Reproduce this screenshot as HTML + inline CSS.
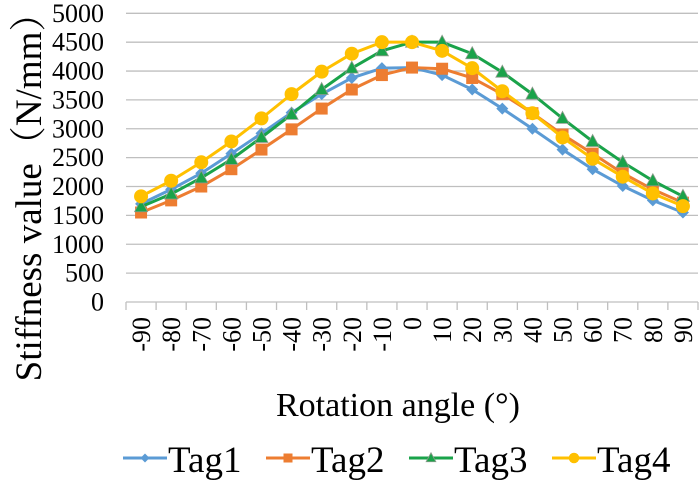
<!DOCTYPE html>
<html><head><meta charset="utf-8"><style>body{margin:0;background:#fff}svg{display:block;font-family:"Liberation Serif","Noto Serif CJK SC",serif}</style></head>
<body>
<svg width="700" height="480" viewBox="0 0 700 480" xmlns="http://www.w3.org/2000/svg">
<g id="grid" stroke="#bfbfbf" stroke-width="1.3"></g>
<g id="lbl"></g>
<g id="series"></g>
<text x="0" y="0" transform="translate(41,188) rotate(-90)" text-anchor="middle" font-size="37">Stiffness value（N/mm）</text>
<text x="398" y="416" text-anchor="middle" font-size="34">Rotation angle (°)</text>
<g id="legend" font-size="37"></g>
<script>
const ns="http://www.w3.org/2000/svg";
function el(p,t,a,txt){const e=document.createElementNS(ns,t);for(const k in a)e.setAttribute(k,a[k]);if(txt!==undefined)e.textContent=txt;p.appendChild(e);return e;}
const g=document.getElementById('grid'),l=document.getElementById('lbl'),s=document.getElementById('series'),lg=document.getElementById('legend');
const L=126,R=698,Y0=302,Y5=13.3;
const yv=v=>Y0-(Y0-Y5)*v/5000;
const dx=(R-L)/19;
for(let v=0;v<=5000;v+=500){const y=yv(v);el(g,'line',{x1:L,x2:R,y1:y,y2:y});el(l,'text',{x:104,y:y+8.5,'text-anchor':'end','font-size':26},v);}
el(g,'line',{x1:L,x2:L,y1:Y0,y2:Y0+8});
for(let i=0;i<19;i++){const x=L+dx*(i+1);el(g,'line',{x1:x,x2:x,y1:Y0,y2:Y0+8});
 const cx=L+dx*(i+0.5);el(l,'text',{x:0,y:0,transform:`translate(${cx+9},317) rotate(-90)`,'text-anchor':'end','font-size':26},-90+10*i);}
const D=[
["#5b9bd5","d",[1700,1950,2230,2570,2920,3280,3600,3880,4050,4060,3930,3680,3350,3000,2640,2300,2010,1760,1550]],
["#ed7d31","s",[1550,1760,2000,2300,2640,2990,3350,3680,3930,4060,4040,3880,3600,3270,2900,2570,2230,1950,1720]],
["#1aa34a","t",[1650,1870,2150,2470,2850,3250,3680,4050,4350,4500,4500,4300,3980,3600,3180,2780,2420,2100,1830]],
["#ffc000","c",[1830,2100,2420,2780,3180,3600,3990,4300,4500,4500,4350,4050,3650,3270,2850,2480,2170,1880,1660]]];
function mk(p,t,x,y,c,k){k=k||1;
 if(t=="d")el(p,'polygon',{points:`${x},${y-6*k} ${x+6*k},${y} ${x},${y+6*k} ${x-6*k},${y}`,fill:c});
 else if(t=="s")el(p,'rect',{x:x-6*k,y:y-6*k,width:12*k,height:12*k,fill:c});
 else if(t=="t")el(p,'polygon',{points:`${x},${y-7*k} ${x+6.5*k},${y+5*k} ${x-6.5*k},${y+5*k}`,fill:c,stroke:'#8a9a8a','stroke-width':0.8});
 else el(p,'circle',{cx:x,cy:y,r:7*k,fill:c});
}
D.forEach(([c,t,v])=>{const pts=v.map((d,i)=>[L+dx*(i+0.5),yv(d)]);
 el(s,'polyline',{points:pts.map(p=>p.join(',')).join(' '),fill:'none',stroke:c,'stroke-width':3,'stroke-linejoin':'round'});
 pts.forEach(p=>mk(s,t,p[0],p[1],c));});
const LX=[123,266,409,552];
D.forEach(([c,t],i)=>{const x=LX[i],y=458;el(lg,'line',{x1:x,x2:x+44,y1:y,y2:y,stroke:c,'stroke-width':3});mk(lg,t,x+22,y,c,0.75);el(lg,'text',{x:x+45,y:y+14},'Tag'+(i+1));});
</script>
</svg>
</body></html>
